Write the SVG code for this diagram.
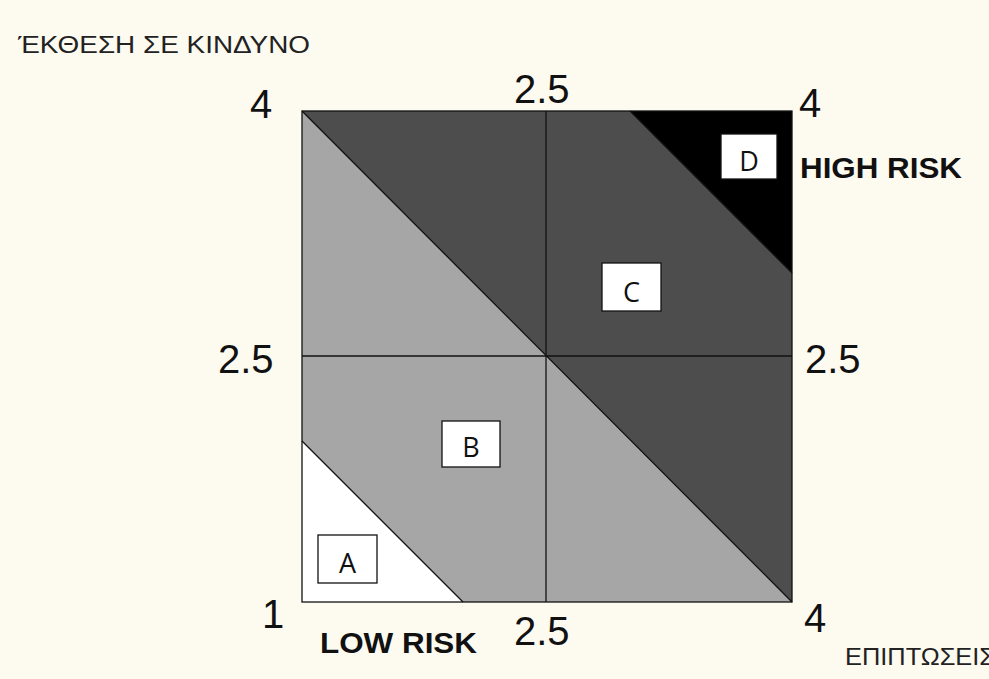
<svg xmlns="http://www.w3.org/2000/svg" width="989" height="679" viewBox="0 0 989 679">
<style>
.num{font-family:"Liberation Sans",Arial,sans-serif;font-size:40px;fill:#111}
.lab{font-family:"Liberation Sans",Arial,sans-serif;font-size:23px;fill:#222}
.risk{font-family:"Liberation Sans",Arial,sans-serif;font-size:29px;font-weight:bold;fill:#111}
.box rect{fill:#fff;stroke:#111;stroke-width:1.3}
.bt{font-family:"Open Sans","Noto Sans",sans-serif;font-size:27px;fill:#111;text-anchor:middle}
.edge{stroke:#111;stroke-width:1.3;fill:none}
</style>
<rect width="989" height="679" fill="#fdfaf0"/>
<g id="matrix">
<rect x="302" y="111" width="490" height="491" fill="#a6a6a6"/>
<polygon points="302,111 792,111 792,602" fill="#4d4d4d"/>
<polygon points="630,111 792,111 792,273" fill="#000"/>
<polygon points="302,441 302,602 463,602" fill="#fff"/>
</g>
<g id="connectors">
<line class="edge" x1="302" y1="111" x2="792" y2="602"/>
<line class="edge" x1="630" y1="111" x2="792" y2="273"/>
<line class="edge" x1="302" y1="441" x2="463" y2="602"/>
<line class="edge" x1="546" y1="111" x2="546" y2="602"/>
<line class="edge" x1="302" y1="356" x2="792" y2="356"/>
<rect class="edge" x="302" y="111" width="490" height="491" stroke-width="1.6"/>
</g>
<g id="nodeA" class="box"><rect x="318" y="535" width="59" height="48"/><text class="bt" x="347.5" y="573">A</text></g>
<g id="nodeB" class="box"><rect x="442" y="421" width="58" height="46"/><text class="bt" x="471" y="457">B</text></g>
<g id="nodeC" class="box"><rect x="602" y="263" width="59" height="48"/><text class="bt" x="631.5" y="302">C</text></g>
<g id="nodeD" class="box"><rect x="721" y="134" width="56" height="45"/><text class="bt" x="749" y="171">D</text></g>
<g id="labels">
<text class="lab" x="18" y="53" textLength="292" lengthAdjust="spacingAndGlyphs">ΈΚΘΕΣΗ ΣΕ ΚΙΝΔΥΝΟ</text>
<text class="lab" x="845" y="665" textLength="150" lengthAdjust="spacingAndGlyphs">ΕΠΙΠΤΩΣΕΙΣ</text>
<text class="num" x="250" y="118">4</text>
<text class="num" x="514" y="103">2.5</text>
<text class="num" x="799" y="117">4</text>
<text class="num" x="218" y="373">2.5</text>
<text class="num" x="805" y="373">2.5</text>
<text class="num" x="262" y="628">1</text>
<text class="num" x="514" y="645">2.5</text>
<text class="num" x="804" y="632">4</text>
<text class="risk" x="800" y="178" textLength="162" lengthAdjust="spacingAndGlyphs">HIGH RISK</text>
<text class="risk" x="320" y="653" textLength="157" lengthAdjust="spacingAndGlyphs">LOW RISK</text>
</g>
</svg>
